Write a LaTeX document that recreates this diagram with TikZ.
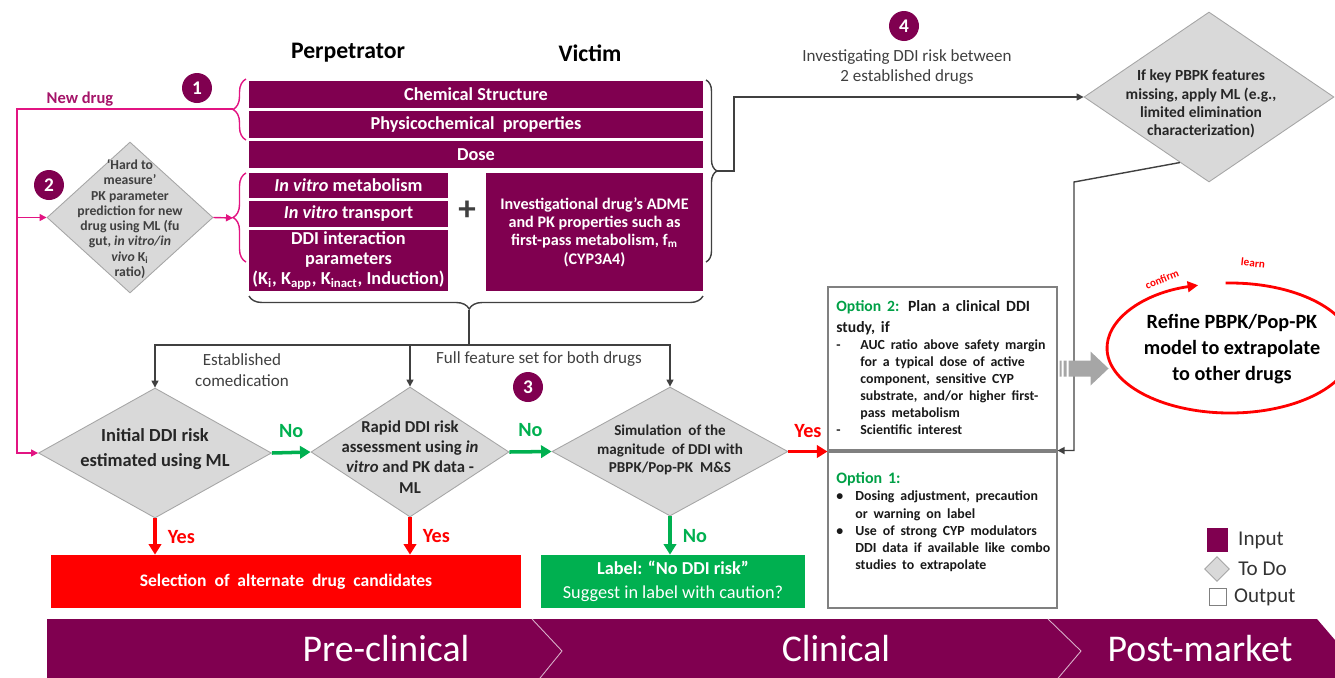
\documentclass[tikz,border=0pt]{standalone}
\usepackage{fontspec}
\setmainfont{Carlito}
\usetikzlibrary{positioning,shapes.geometric,arrows.meta,decorations.pathreplacing,fit}

\definecolor{ddipurple}{RGB}{128,0,80}
\definecolor{linkpink}{RGB}{226,20,130}
\definecolor{drugpink}{RGB}{165,20,105}
\definecolor{todogray}{RGB}{217,217,217}
\definecolor{edgegray}{RGB}{166,166,166}
\definecolor{wiregray}{RGB}{64,64,64}
\definecolor{okgreen}{RGB}{0,176,80}
\definecolor{optgreen}{RGB}{0,160,70}
\definecolor{riskred}{RGB}{255,0,0}

\newcommand\fsz[2]{\fontsize{#1}{#2}\selectfont}
\newcommand\optitem[2]{\par\hangindent=#1\hangafter=1\noindent\makebox[#1][l]{#2}}

\begin{document}
\begin{tikzpicture}[x=0.02cm,y=-0.02cm,
  inbox/.style={inner sep=0pt, fill=ddipurple, text=white, align=center, font=\bfseries\fsz{10.4}{11.3}},
  todo/.style={diamond, inner sep=0pt, fill=todogray, draw=edgegray, line width=0.5pt},
  todotext/.style={inner sep=0pt, align=center, text=black!85, font=\bfseries},
  outbox/.style={inner sep=0pt, draw=gray, line width=0.6pt},
  endbox/.style={inner sep=0pt, text=white, align=center},
  stepnum/.style={circle, fill=ddipurple, text=white, minimum size=0.6cm, inner sep=0pt, font=\bfseries\fsz{11}{13}},
  wire/.style={draw=wiregray, line width=0.8pt, -{Triangle[length=4pt,width=4pt]}},
  pinkwire/.style={draw=linkpink, line width=0.8pt, -{Triangle[length=4pt,width=4pt]}},
  nowire/.style={draw=okgreen, line width=2pt, -{Triangle[length=6pt,width=7pt]}},
  yeswire/.style={draw=riskred, line width=2pt, -{Triangle[length=6pt,width=7pt]}},
  nolbl/.style={inner sep=0pt, text=okgreen, font=\bfseries\fsz{11.5}{13}},
  yeslbl/.style={inner sep=0pt, text=riskred, font=\bfseries\fsz{11.5}{13}},
  grylbl/.style={inner sep=0pt, text=wiregray, align=center, font=\fsz{9.7}{12}},
  pinkbrace/.style={draw=linkpink, line width=0.8pt, decorate, decoration={brace, amplitude=0.26cm}},
  graybrace/.style={draw=wiregray, line width=0.8pt, decorate, decoration={brace, amplitude=0.22cm}},
  opttext/.style={inner sep=0pt, text width=4.7cm, text=black!90, font=\bfseries},
  legtext/.style={inner sep=0pt, text=black!80, font=\fsz{12}{14}},
  bandtext/.style={inner sep=0pt, text=white, font=\fsz{21.5}{24}}
]
\useasboundingbox (0,0) rectangle (1335,677);
\clip (0,0) rectangle (1335,677);

% column titles
\node[font=\bfseries\fsz{13.5}{16}] (perp) at (348,53) {Perpetrator};
\node[font=\bfseries\fsz{13.5}{16}] (vict) at (590,53) {Victim};

% inputs
\node[inbox, minimum width=9.08cm, minimum height=0.54cm] (chem) at (476,94.5) {Chemical Structure};
\node[inbox, minimum width=9.08cm, minimum height=0.54cm] (phys) at (476,124.5) {Physicochemical\ \ properties};
\node[inbox, minimum width=9.08cm, minimum height=0.54cm] (dose) at (476,154.5) {Dose};
\node[inbox, minimum width=3.98cm, minimum height=0.5cm] (imet) at (348.5,185.5) {\textit{In vitro} metabolism};
\node[inbox, minimum width=3.98cm, minimum height=0.52cm] (itra) at (348.5,214) {\textit{In vitro} transport};
\node[inbox, minimum width=3.98cm, minimum height=1.22cm] (ddip) at (348.5,260.5) {DDI interaction\\parameters\\(K\textsubscript{i}, K\textsubscript{app}, K\textsubscript{inact}, Induction)};
\node[inbox, minimum width=4.34cm, minimum height=2.36cm, font=\bfseries\fsz{9.2}{10.4}] (adme) at (594.5,232) {Investigational drug’s ADME\\and PK properties such as\\first-pass metabolism, f\textsubscript{m}\\(CYP3A4)};
\node[font=\bfseries\fsz{20}{22}, text=black!75] (plus) at (467,211) {+};

% braces
\draw[pinkbrace] (246,140) -- (246,79);
\draw[pinkbrace] (246,262) -- (246,173);
\draw[graybrace] (706,80) -- (706,262);
\draw[graybrace, decoration={brace, amplitude=0.26cm, aspect=0.515}] (703,296) -- (249,296);
\coordinate (tipA) at (233,109);
\coordinate (tipB) at (233,218);
\coordinate (tipC) at (717,171);
\coordinate (tipD) at (469,310);

% step numbers
\node[stepnum] (n1) at (197,88) {1};
\node[stepnum] (n2) at (49,185) {2};
\node[stepnum] (n3) at (528,387) {3};
\node[stepnum] (n4) at (904,26) {4};

% decisions
\node[todo, minimum width=3.32cm, minimum height=3.02cm] (hard) at (130,217.5) {};
\node[todotext, text=wiregray, font=\bfseries\fsz{7.8}{8.7}] (hardt) at (130,219) {‘Hard to\\measure’\\PK parameter\\prediction for new\\drug using ML (fu\\gut, \textit{in vitro/in}\\\textit{vivo} K\textsubscript{i}\\ratio)};
\node[todo, minimum width=4.66cm, minimum height=2.6cm] (init) at (155,453) {};
\node[todotext, font=\bfseries\fsz{10.5}{14}] (initt) at (155,449) {Initial DDI risk\\estimated using ML};
\node[todo, minimum width=3.96cm, minimum height=2.6cm] (rapid) at (410,452) {};
\node[todotext, font=\bfseries\fsz{9.5}{11.5}] (rapidt) at (410,457) {Rapid DDI risk\\assessment using \textit{in}\\\textit{vitro} and PK data -\\ML};
\node[todo, minimum width=4.72cm, minimum height=2.58cm] (sim) at (670,451.5) {};
\node[todotext, font=\bfseries\fsz{8.6}{10.7}] (simt) at (670,450) {Simulation\ \ of the\\magnitude\ \ of DDI with\\PBPK/Pop-PK\ \ M\&S};
\node[todo, minimum width=5cm, minimum height=3.4cm] (miss) at (1209,97) {};
\node[todotext, font=\bfseries\fsz{8.8}{10.4}] (misst) at (1201,104) {If key PBPK features\\missing, apply ML (e.g.,\\limited elimination\\characterization)};

% outcomes
\node[endbox, fill=riskred, minimum width=9.4cm, minimum height=1.06cm, font=\bfseries\fsz{10}{12}] (sel) at (286,581.5) {Selection\ \ of\ \ alternate\ \ drug\ \ candidates};
\node[endbox, fill=okgreen, minimum width=5.28cm, minimum height=1.06cm, font=\fsz{10.4}{13.6}] (nodi) at (673,581.5) {{\bfseries Label: “No DDI risk”}\\Suggest in label with caution?};
\node[outbox, fit={(828,287) (1057,450)}] (opt2) {};
\node[outbox, fit={(828,452) (1057,608)}] (opt1) {};
\node[opttext, anchor=north west] (opt2t) at (836,300) {\raggedright
  {\fsz{8.9}{11.9}\textcolor{optgreen}{Option 2:} Plan a clinical DDI\newline study, if\par}
  \fsz{7.9}{9.7}\optitem{0.48cm}{-}AUC ratio above safety margin\newline for a typical dose of active\newline component, sensitive CYP\newline substrate, and/or higher first-\newline pass metabolism\par
  \optitem{0.48cm}{-}Scientific interest\par};
\node[opttext, anchor=north west] (opt1t) at (836,472) {\raggedright
  {\fsz{9.1}{11.9}\textcolor{optgreen}{Option 1:}\par}
  \fsz{7.9}{9.8}\optitem{0.38cm}{•}Dosing adjustment, precaution\newline or warning on label\par
  \optitem{0.38cm}{•}Use of strong CYP modulators\newline DDI data if available like combo\newline studies to extrapolate\par};

% labels on the wires
\node[font=\bfseries\fsz{9.4}{11}, text=drugpink, inner sep=0pt] (newd) at (80,99) {New drug};
\node[grylbl] (estab) at (242,370) {Established\\comedication};
\node[grylbl] (full) at (539,359) {Full feature set for both drugs};
\node[grylbl, font=\fsz{9.7}{11.3}] (invest) at (907,67) {Investigating DDI risk between\\2 established drugs};

% connectors
\coordinate (nd) at (17,109);
\draw[pinkwire] (tipA) -- (nd) |- (init.west);
\draw[pinkwire] (nd |- hard.west) -- (hard.west);
\draw[pinkwire] (hard.east) -- (tipB);
\draw[wire] (tipC) -- (734,171) |- (miss.west);
\coordinate (hub) at (469,345);
\draw[draw=wiregray, line width=0.8pt] (tipD) -- (hub);
\draw[wire] (hub) -| (init.north);
\draw[wire] (hub) -| (rapid.north);
\draw[wire] (hub) -| (sim.north);
\coordinate (bend) at (1074,182);
\draw[wire] (miss.-114) -- (bend) |- (opt2.south east);
\draw[nowire] (init.east) -- (rapid.west) node[midway, above=0.27cm, nolbl] {No};
\draw[nowire] (rapid.east) -- (sim.west) node[midway, above=0.27cm, nolbl] {No};
\draw[yeswire] (sim.east) -- (sim.east -| opt2.west) node[midway, above=0.24cm, yeslbl] {Yes};
\draw[yeswire] (init.south) -- (init.south |- sel.north) node[midway, right=0.22cm, yeslbl] {Yes};
\draw[yeswire] (rapid.south) -- (rapid.south |- sel.north) node[midway, right=0.22cm, yeslbl] {Yes};
\draw[nowire] (sim.south) -- (sim.south |- nodi.north) node[midway, right=0.22cm, nolbl] {No};

% refine loop
\fill[edgegray, shift={(opt2.east)}] (2,-8) rectangle (4,8) (6,-8) rectangle (9,8)
  (11,-8) -- (33,-8) -- (33,-17) -- (51,0) -- (33,17) -- (33,8) -- (11,8) -- cycle;
\coordinate (ell) at (1230,348);
\draw[riskred, line width=1.6pt, -{Triangle[length=6pt,width=6pt]}] (ell) ++(-92:123 and 65)
  arc[start angle=-92, end angle=255, x radius=123, y radius=65];
\node[font=\bfseries\fsz{11.5}{14.8}, align=center, inner sep=0pt] (refine) at (1232,349) {Refine PBPK/Pop-PK\\model to extrapolate\\to other drugs};
\node[rotate=22, text=riskred, inner sep=0pt, font=\bfseries\fsz{6.2}{7}] (conf) at (1162,279) {confirm};
\node[rotate=-6, text=riskred, inner sep=0pt, font=\bfseries\fsz{6.4}{7}] (lrn) at (1253,263) {learn};

% legend
\node[fill=ddipurple, minimum width=0.42cm, minimum height=0.47cm, inner sep=0pt] (lgin) at (1217,540) {};
\node[legtext, right=0.2cm of lgin] (lgint) {Input};
\node[todo, minimum width=0.5cm, minimum height=0.5cm] (lgdo) at (1217,569) {};
\node[legtext, right=0.16cm of lgdo] (lgdot) {To Do};
\node[outbox, minimum size=0.33cm] (lgout) at (1218,597) {};
\node[legtext, right=0.14cm of lgout] (lgoutt) {Output};

% phase band
\fill[ddipurple] (47,619) -- (1317,619) -- (1352,660) -- (1317,701) -- (47,701) -- cycle;
\draw[white!70!ddipurple, line width=0.5pt] (532,619) -- (562,651) -- (536,683);
\draw[white!70!ddipurple, line width=0.5pt] (1048,619) -- (1081,651) -- (1054,683);
\node[bandtext] (pre) at (386,649) {Pre-clinical};
\node[bandtext] (clin) at (836,649) {Clinical};
\node[bandtext] (post) at (1200,649) {Post-market};
\end{tikzpicture}
\end{document}
